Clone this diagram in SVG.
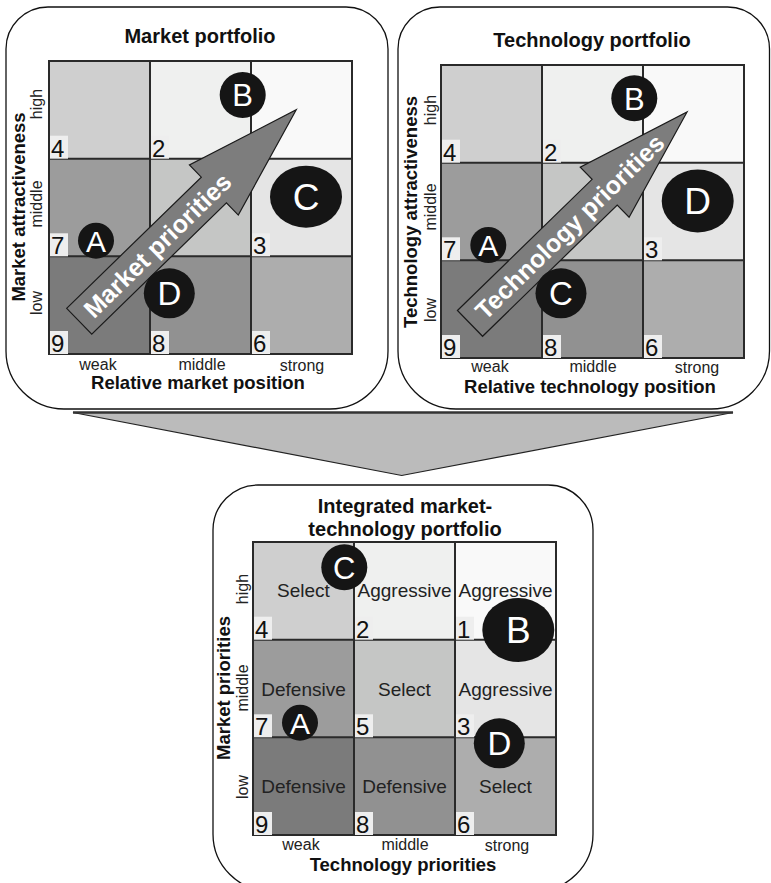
<svg xmlns="http://www.w3.org/2000/svg" xmlns:xlink="http://www.w3.org/1999/xlink" width="771" height="883" viewBox="0 0 771 883">
  <style>
    text { font-family: "Liberation Sans", Arial, sans-serif; fill: #111; }
    .panel { fill: #fff; stroke: #111; stroke-width: 1.3; }
    .ttl { font-size: 20px; font-weight: bold; text-anchor: middle; }
    .ax { font-size: 18.5px; font-weight: bold; text-anchor: middle; }
    .lv { font-size: 16px; text-anchor: middle; fill: #222; }
    .num { font-size: 24px; }
    .nbox { fill: #eeeeee; }
    .cellt { font-size: 19px; text-anchor: middle; fill: #222; }
    .dot { fill: #151515; }
    .lt { fill: #fff; text-anchor: middle; }
    .prio { fill: #7d7d7d; stroke: #1a1a1a; stroke-width: 1.2; stroke-linejoin: miter; }
    .ptxt { fill: #fff; font-size: 25px; font-weight: bold; text-anchor: middle; }
    .funnel { fill: #bbbbbb; stroke: #222; stroke-width: 1.2; stroke-linejoin: miter; }
  </style>
  <defs>
    <!-- 3x3 portfolio grid, 303 x 293 -->
    <g id="grid">
      <rect x="0" y="0" width="101" height="97.7" fill="#cfcfcf"/>
      <rect x="101" y="0" width="101" height="97.7" fill="#eff0ef"/>
      <rect x="202" y="0" width="101" height="97.7" fill="#f9f9f9"/>
      <rect x="0" y="97.7" width="101" height="97.6" fill="#9c9c9c"/>
      <rect x="101" y="97.7" width="101" height="97.6" fill="#c5c6c5"/>
      <rect x="202" y="97.7" width="101" height="97.6" fill="#e5e5e5"/>
      <rect x="0" y="195.3" width="101" height="97.7" fill="#7b7b7b"/>
      <rect x="101" y="195.3" width="101" height="97.7" fill="#919191"/>
      <rect x="202" y="195.3" width="101" height="97.7" fill="#adadad"/>
      <path d="M0,0 H303 V293 H0 Z M101,0 V293 M202,0 V293 M0,97.7 H303 M0,195.3 H303" fill="none" stroke="#2a2a2a" stroke-width="2"/>
    </g>
    <!-- priority arrow along +x, tail at origin -->
    <polygon id="prioArrow" class="prio" points="0,-18 188,-18 188,-35 303,0 188,35 188,18 0,18"/>
  </defs>

  <!-- market portfolio -->
  <g id="market-portfolio">
    <path class="panel" d="M48,7 H346 A42,42 0 0 1 388,49 V351 A58,58 0 0 1 330,409 H64 A58,58 0 0 1 6,351 V49 A42,42 0 0 1 48,7 Z"/>
    <text class="ttl" x="200" y="43">Market portfolio</text>
    <use xlink:href="#grid" x="49" y="61"/>
    <g class="nums">
      <rect class="nbox" x="50" y="135.7" width="18" height="23"/><text class="num" x="51" y="156.7">4</text>
      <rect class="nbox" x="151" y="135.7" width="18" height="23"/><text class="num" x="152" y="156.7">2</text>
      <rect class="nbox" x="50" y="233.3" width="18" height="23"/><text class="num" x="51" y="254.3">7</text>
      <rect class="nbox" x="252" y="233.3" width="18" height="23"/><text class="num" x="253" y="254.3">3</text>
      <rect class="nbox" x="50" y="331" width="18" height="23"/><text class="num" x="51" y="352">9</text>
      <rect class="nbox" x="151" y="331" width="18" height="23"/><text class="num" x="152" y="352">8</text>
      <rect class="nbox" x="252" y="331" width="18" height="23"/><text class="num" x="253" y="352">6</text>
    </g>
    <g transform="translate(79.2,321.2) rotate(-44.25)">
      <use xlink:href="#prioArrow"/>
      <text class="ptxt" x="109" y="9">Market priorities</text>
    </g>
    <g id="m-B"><circle class="dot" cx="242.7" cy="95" r="23"/><text class="lt" x="242.7" y="106.2" font-size="31">B</text></g>
    <g id="m-C"><ellipse class="dot" cx="306" cy="196.7" rx="36" ry="31"/><text class="lt" x="306" y="210" font-size="37">C</text></g>
    <g id="m-A"><circle class="dot" cx="96" cy="240.7" r="18"/><text class="lt" x="96" y="251.5" font-size="30">A</text></g>
    <g id="m-D"><ellipse class="dot" cx="169.3" cy="293.3" rx="25.5" ry="25"/><text class="lt" x="169.3" y="305.2" font-size="33">D</text></g>
    <text class="ax" transform="translate(25,207) rotate(-90)">Market attractiveness</text>
    <text class="lv" transform="translate(42,104) rotate(-90)">high</text>
    <text class="lv" transform="translate(42,204) rotate(-90)">middle</text>
    <text class="lv" transform="translate(42,303) rotate(-90)">low</text>
    <text class="lv" x="98" y="370">weak</text>
    <text class="lv" x="202" y="370">middle</text>
    <text class="lv" x="302" y="371">strong</text>
    <text class="ax" x="198" y="389">Relative market position</text>
  </g>

  <!-- technology portfolio -->
  <g id="technology-portfolio">
    <path class="panel" d="M440,7 H727.5 A42,42 0 0 1 769.5,49 V351 A58,58 0 0 1 711.5,409 H456 A58,58 0 0 1 398,351 V49 A42,42 0 0 1 440,7 Z"/>
    <text class="ttl" x="592" y="47">Technology portfolio</text>
    <use xlink:href="#grid" x="441" y="65"/>
    <g class="nums">
      <rect class="nbox" x="442" y="139.7" width="18" height="23"/><text class="num" x="443" y="160.7">4</text>
      <rect class="nbox" x="543" y="139.7" width="18" height="23"/><text class="num" x="544" y="160.7">2</text>
      <rect class="nbox" x="442" y="237.3" width="18" height="23"/><text class="num" x="443" y="258.3">7</text>
      <rect class="nbox" x="644" y="237.3" width="18" height="23"/><text class="num" x="645" y="258.3">3</text>
      <rect class="nbox" x="442" y="335" width="18" height="23"/><text class="num" x="443" y="356">9</text>
      <rect class="nbox" x="543" y="335" width="18" height="23"/><text class="num" x="544" y="356">8</text>
      <rect class="nbox" x="644" y="335" width="18" height="23"/><text class="num" x="645" y="356">6</text>
    </g>
    <g transform="translate(470,323.4) rotate(-44.25)">
      <use xlink:href="#prioArrow"/>
      <text class="ptxt" x="139" y="9">Technology priorities</text>
    </g>
    <g id="t-B"><circle class="dot" cx="634.3" cy="98.3" r="23"/><text class="lt" x="634.3" y="109.5" font-size="31">B</text></g>
    <g id="t-D"><ellipse class="dot" cx="697.7" cy="201" rx="36" ry="31.5"/><text class="lt" x="697.7" y="214.3" font-size="37">D</text></g>
    <g id="t-A"><circle class="dot" cx="488.3" cy="245" r="18"/><text class="lt" x="488.3" y="255.8" font-size="30">A</text></g>
    <g id="t-C"><ellipse class="dot" cx="561" cy="293.3" rx="25.5" ry="25"/><text class="lt" x="561" y="305.2" font-size="33">C</text></g>
    <text class="ax" transform="translate(417,212) rotate(-90)">Technology attractiveness</text>
    <text class="lv" transform="translate(436,110) rotate(-90)">high</text>
    <text class="lv" transform="translate(436,207) rotate(-90)">middle</text>
    <text class="lv" transform="translate(436,310) rotate(-90)">low</text>
    <text class="lv" x="490" y="372">weak</text>
    <text class="lv" x="593" y="372">middle</text>
    <text class="lv" x="697" y="373">strong</text>
    <text class="ax" x="590" y="393">Relative technology position</text>
  </g>

  <!-- merge arrow from both portfolios into the integrated one -->
  <g id="connectors">
    <polygon class="funnel" points="73,412.5 733,412.5 401.7,475.5"/>
    <line x1="73" y1="412.5" x2="733" y2="412.5" stroke="#333" stroke-width="2.5"/>
  </g>

  <!-- integrated market-technology portfolio -->
  <g id="integrated-portfolio">
    <path class="panel" d="M258,485 H548 A45,45 0 0 1 593,530 V834 A57,57 0 0 1 536,891 H270 A57,57 0 0 1 213,834 V530 A45,45 0 0 1 258,485 Z"/>
    <text class="ttl" x="405" y="513">Integrated market-</text>
    <text class="ttl" x="405" y="536">technology portfolio</text>
    <use xlink:href="#grid" x="253" y="542"/>
    <g class="nums">
      <rect class="nbox" x="254" y="616.7" width="18" height="23"/><text class="num" x="255" y="637.7">4</text>
      <rect class="nbox" x="355" y="616.7" width="18" height="23"/><text class="num" x="356" y="637.7">2</text>
      <rect class="nbox" x="456" y="616.7" width="18" height="23"/><text class="num" x="457" y="637.7">1</text>
      <rect class="nbox" x="254" y="714.3" width="18" height="23"/><text class="num" x="255" y="735.3">7</text>
      <rect class="nbox" x="355" y="714.3" width="18" height="23"/><text class="num" x="356" y="735.3">5</text>
      <rect class="nbox" x="456" y="714.3" width="18" height="23"/><text class="num" x="457" y="735.3">3</text>
      <rect class="nbox" x="254" y="812" width="18" height="23"/><text class="num" x="255" y="833">9</text>
      <rect class="nbox" x="355" y="812" width="18" height="23"/><text class="num" x="356" y="833">8</text>
      <rect class="nbox" x="456" y="812" width="18" height="23"/><text class="num" x="457" y="833">6</text>
    </g>
    <g class="strategies">
      <text class="cellt" x="303.5" y="597">Select</text>
      <text class="cellt" x="404.5" y="597">Aggressive</text>
      <text class="cellt" x="505.5" y="597">Aggressive</text>
      <text class="cellt" x="303.5" y="696">Defensive</text>
      <text class="cellt" x="404.5" y="696">Select</text>
      <text class="cellt" x="505.5" y="696">Aggressive</text>
      <text class="cellt" x="303.5" y="793">Defensive</text>
      <text class="cellt" x="404.5" y="793">Defensive</text>
      <text class="cellt" x="505.5" y="793">Select</text>
    </g>
    <g id="i-C"><circle class="dot" cx="344.3" cy="567.3" r="23"/><text class="lt" x="344.3" y="578.5" font-size="31">C</text></g>
    <g id="i-B"><ellipse class="dot" cx="518.3" cy="630" rx="36" ry="32"/><text class="lt" x="518.3" y="643.3" font-size="37">B</text></g>
    <g id="i-A"><circle class="dot" cx="300" cy="722.7" r="18"/><text class="lt" x="300" y="733.5" font-size="30">A</text></g>
    <g id="i-D"><ellipse class="dot" cx="499.3" cy="743.3" rx="25.5" ry="25"/><text class="lt" x="499.3" y="755.2" font-size="33">D</text></g>
    <text class="ax" transform="translate(230,688) rotate(-90)">Market priorities</text>
    <text class="lv" transform="translate(248,589) rotate(-90)">high</text>
    <text class="lv" transform="translate(248,688) rotate(-90)">middle</text>
    <text class="lv" transform="translate(248,787) rotate(-90)">low</text>
    <text class="lv" x="301" y="850">weak</text>
    <text class="lv" x="405" y="850">middle</text>
    <text class="lv" x="507" y="851">strong</text>
    <text class="ax" x="403" y="871">Technology priorities</text>
  </g>
</svg>
